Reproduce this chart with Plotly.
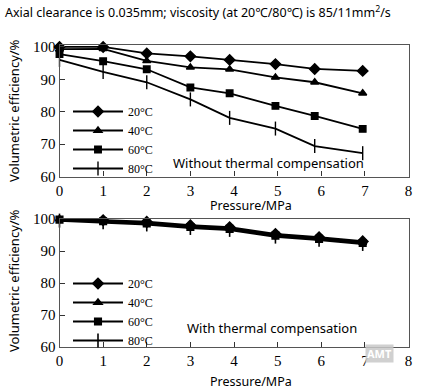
import plotly.graph_objects as go

# ---- data ----
temps = ["20°C", "40°C", "60°C", "80°C"]
symbols = ["diamond", "triangle-up", "square", "line-ns-open"]
marker_sizes = [8, 7, 6.5, 10]

pressure_top = [0, 1, 2, 3, 3.9, 4.95, 5.85, 6.95]
eff_without = {
    "20°C": [100.0, 100.0, 98.0, 97.1, 96.0, 94.7, 93.2, 92.6],
    "40°C": [99.3, 99.4, 95.7, 93.7, 93.1, 90.6, 89.1, 85.7],
    "60°C": [97.8, 95.6, 93.1, 87.5, 85.7, 81.8, 78.7, 74.7],
    "80°C": [96.0, 92.3, 89.1, 83.8, 78.1, 74.8, 69.4, 67.2],
}

pressure_bottom = [0, 1, 2, 3, 3.9, 4.95, 5.95, 6.95]
eff_with = {
    "20°C": [100.1, 99.6, 99.1, 98.0, 97.4, 95.3, 94.3, 93.0],
    "40°C": [100.0, 99.4, 98.8, 97.7, 97.1, 95.0, 94.0, 92.7],
    "60°C": [99.8, 99.3, 98.6, 97.5, 96.9, 94.8, 93.8, 92.5],
    "80°C": [99.5, 99.0, 98.3, 97.2, 96.6, 94.5, 93.5, 92.2],
}

x_ticks = [0, 1, 2, 3, 4, 5, 6, 7, 8]
y_ticks = [60, 70, 80, 90, 100]

title_text = "Axial clearance is 0.035mm; viscosity (at 20℃/80℃) is 85/11mm<sup>2</sup>/s"

W, H = 424, 391
fig = go.Figure()

for t, sym, ms in zip(temps, symbols, marker_sizes):
    fig.add_trace(go.Scatter(
        x=pressure_top, y=eff_without[t], name=t, mode="lines+markers",
        line=dict(color="black", width=1.8),
        marker=dict(symbol=sym, size=ms, color="black",
                    line=dict(color="black", width=1.4)),
        xaxis="x", yaxis="y", legend="legend", cliponaxis=False,
    ))
for t, sym, ms in zip(temps, symbols, marker_sizes):
    fig.add_trace(go.Scatter(
        x=pressure_bottom, y=eff_with[t], name=t, mode="lines+markers",
        line=dict(color="black", width=2.2),
        marker=dict(symbol=sym, size=ms, color="black",
                    line=dict(color="black", width=1.6)),
        xaxis="x2", yaxis="y2", legend="legend2", cliponaxis=False,
    ))

def px_x(p):
    return p / W

def px_y(p):
    return 1 - p / H

serif = "Liberation Serif, Times New Roman, serif"
tick_font = dict(family=serif, size=15, color="black")
sans = "Noto Sans, Open Sans, sans-serif"

axis_common = dict(
    showgrid=False, zeroline=False, showline=True, mirror=True,
    linecolor="#555555", linewidth=1.2, ticks="inside", ticklen=5,
    tickcolor="#333333", tickwidth=1, tickfont=tick_font, automargin=False,
)

def note(text, x, y, size=13, xanchor="center", angle=0, **kw):
    return dict(text=text, x=px_x(x), y=px_y(y), xref="paper", yref="paper",
                xanchor=xanchor, yanchor="middle", textangle=angle, showarrow=False,
                font=dict(family=sans, size=size, color=kw.pop("color", "black")), **kw)

xdom = [px_x(59.5), px_x(408.5)]
fig.update_layout(
    width=W, height=H,
    margin=dict(l=0, r=0, t=0, b=0, autoexpand=False),
    paper_bgcolor="white", plot_bgcolor="white",
    showlegend=True,
    xaxis=dict(domain=xdom, range=[0, 8], tickvals=x_ticks, anchor="y", **axis_common),
    yaxis=dict(domain=[px_y(176.5), px_y(45)], range=[60, 100.6], tickvals=y_ticks,
               anchor="x", **axis_common),
    xaxis2=dict(domain=xdom, range=[0, 8], tickvals=x_ticks, anchor="y2", **axis_common),
    yaxis2=dict(domain=[px_y(347), px_y(219)], range=[60, 100], tickvals=y_ticks,
                anchor="x2", **axis_common),
    legend=dict(x=px_x(68), y=px_y(97), xanchor="left", yanchor="top",
                bgcolor="rgba(0,0,0,0)", font=dict(family=serif, size=12, color="black"),
                itemwidth=50, tracegroupgap=0),
    legend2=dict(x=px_x(68), y=px_y(269), xanchor="left", yanchor="top",
                 bgcolor="rgba(0,0,0,0)", font=dict(family=serif, size=12, color="black"),
                 itemwidth=50, tracegroupgap=0),
    annotations=[
        note(title_text, 3, 12, size=12.5, xanchor="left"),
        note("Volumetric efficiency/%", 14, 111, angle=-90),
        note("Volumetric efficiency/%", 14, 281, angle=-90),
        note("Pressure/MPa", 251, 205, size=12.5),
        note("Pressure/MPa", 251, 381, size=12.5),
        note("Without thermal compensation", 366, 163, xanchor="right"),
        note("With thermal compensation", 359, 328, xanchor="right"),
        note("<b>AMT</b>", 379, 353, size=11, color="white", bgcolor="rgba(200,200,200,0.85)",
             borderpad=1),
    ],
)

fig.write_html(
    "out.html",
    config={"displayModeBar": False},
    post_script="document.body.style.margin='0';document.body.style.padding='0';",
)
